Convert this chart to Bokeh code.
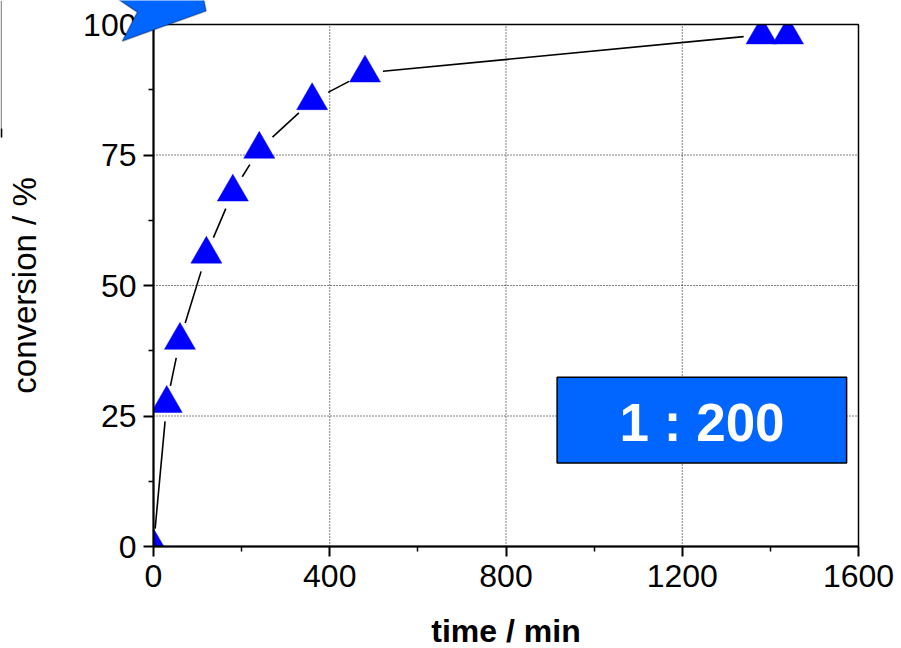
import math
from bokeh.plotting import figure
from bokeh.models import Range1d, PolyAnnotation, BoxAnnotation, Label, FixedTicker
from bokeh.embed import file_html
from bokeh.resources import INLINE

# ---- data ----
time_min = [0, 30, 60, 120, 180, 240, 360, 480, 1380, 1440]
conversion = [0, 27.4, 39.5, 56.0, 67.9, 76.1, 85.4, 90.7, 98.0, 98.0]
x_ticks = [0, 400, 800, 1200, 1600]
x_minor = [200, 600, 1000, 1400]
y_ticks = [0, 25, 50, 75, 100]
y_minor = [12.5, 37.5, 62.5, 87.5]
ratio_text = "1 : 200"

# ---- layout (pixels) ----
X0, X1, Y0, Y1 = 0, 1600, 0, 100
LEFT_PX, TOP_PX = 153, 24
PLOT_W, PLOT_H = 705, 522
CANVAS_W, CANVAS_H = 898, 647
sx = PLOT_W / (X1 - X0)
sy = PLOT_H / (Y1 - Y0)
x_lo = X0 - LEFT_PX / sx
x_hi = X1 + (CANVAS_W - LEFT_PX - PLOT_W) / sx
y_hi = Y1 + TOP_PX / sy
y_lo = Y0 - (CANVAS_H - TOP_PX - PLOT_H) / sy


def px(x, y):
    return X0 + (x - LEFT_PX) / sx, Y0 + (TOP_PX + PLOT_H - y) / sy


FONT = "Liberation Sans"
BLUE_BOX = "#0066FF"
MARK = "#0000FF"

p = figure(frame_width=CANVAS_W, frame_height=CANVAS_H,
           x_range=Range1d(x_lo, x_hi), y_range=Range1d(y_lo, y_hi),
           output_backend="svg", toolbar_location=None,
           min_border=0)
p.background_fill_color = "white"
p.border_fill_color = "white"
p.outline_line_color = None
p.grid.visible = False

for ax in (p.xaxis[0], p.yaxis[0]):
    ax.fixed_location = 0
    ax.axis_line_width = 2
    ax.axis_line_color = "black"
    ax.major_tick_line_width = 2
    ax.major_tick_line_color = "black"
    ax.minor_tick_line_width = 1.5
    ax.minor_tick_line_color = "black"
    ax.major_tick_in = 0
    ax.major_tick_out = 10
    ax.minor_tick_in = 0
    ax.minor_tick_out = 5
    ax.major_label_text_font = FONT
    ax.major_label_text_font_size = "32px"
    ax.major_label_text_color = "black"
    ax.axis_label_text_font = FONT
    ax.axis_label_text_color = "black"

p.xaxis.bounds = (X0, X1)
p.yaxis.bounds = (Y0, Y1)
p.xaxis.ticker = FixedTicker(ticks=x_ticks, minor_ticks=x_minor)
p.yaxis.ticker = FixedTicker(ticks=y_ticks, minor_ticks=y_minor)
p.xaxis.major_label_standoff = 8
p.yaxis.major_label_standoff = 7
p.xaxis.axis_label = "time / min"
p.xaxis.axis_label_text_font_style = "bold"
p.xaxis.axis_label_text_font_size = "32px"
p.xaxis.axis_label_standoff = 23
p.yaxis.axis_label = "conversion / %"
p.yaxis.axis_label_text_font_style = "normal"
p.yaxis.axis_label_text_font_size = "33px"
p.yaxis.axis_label_standoff = 37

# dotted grid lines at the interior ticks
gx = x_ticks[1:-1]
gy = y_ticks[1:-1]
p.segment(gx, [Y0] * len(gx), gx, [Y1] * len(gx),
          line_color="black", line_width=1, line_dash="1 2")
p.segment([X0] * len(gy), gy, [X1] * len(gy), gy,
          line_color="black", line_width=1, line_dash="1 2")

# connecting segments with gaps around the markers (gap in pixels)
GAP = 18
xs0, ys0, xs1, ys1 = [], [], [], []
for i in range(len(time_min) - 1):
    ax_, ay_ = time_min[i] * sx, conversion[i] * sy
    bx_, by_ = time_min[i + 1] * sx, conversion[i + 1] * sy
    d = math.hypot(bx_ - ax_, by_ - ay_)
    if d > 2 * GAP:
        ux, uy = (bx_ - ax_) / d, (by_ - ay_) / d
        xs0.append((ax_ + GAP * ux) / sx)
        ys0.append((ay_ + GAP * uy) / sy)
        xs1.append((bx_ - GAP * ux) / sx)
        ys1.append((by_ - GAP * uy) / sy)
p.segment(xs0, ys0, xs1, ys1, line_color="black", line_width=1.6)

p.scatter(time_min, conversion, marker="triangle", size=31,
          fill_color=MARK, line_color=MARK, line_width=0.5)

# white masks: clip markers to the plot area like the original
p.quad(left=[x_lo, x_lo, x_lo, X1], right=[X0, x_hi, x_hi, x_hi],
       bottom=[y_lo, y_lo, Y1, y_lo], top=[y_hi, Y0, y_hi, y_hi],
       fill_color="white", line_color=None)

# top / right frame lines
frame_box = BoxAnnotation(left=X0, right=X1, bottom=Y0, top=Y1,
                          fill_alpha=0, line_color="black", line_width=1.5,
                          line_alpha=1.0)
p.add_layout(frame_box)

# decorative arrow at top-left (partially cut off in original)
arrow_px = [(114.9, -3), (136.7, 11.7), (121.7, 40.7), (205.7, 10.5), (203.0, -3)]
ax_pts = [px(a, b) for a, b in arrow_px]
arrow = PolyAnnotation(xs=[a for a, _ in ax_pts], ys=[b for _, b in ax_pts],
                       fill_color=BLUE_BOX, fill_alpha=1.0,
                       line_color="black", line_width=1.5)
p.add_layout(arrow)

# remnants of a cut-off frame at the far left edge
e1 = [px(a, b) for a, b in [(0, 0), (1.4, 0), (1.4, 128), (0, 128)]]
p.add_layout(PolyAnnotation(xs=[a for a, _ in e1], ys=[b for _, b in e1],
                            fill_color="#888888", fill_alpha=1.0, line_color=None))
e2 = [px(a, b) for a, b in [(0, 128), (1.8, 128), (1.8, 137), (0, 137)]]
p.add_layout(PolyAnnotation(xs=[a for a, _ in e2], ys=[b for _, b in e2],
                            fill_color="black", fill_alpha=1.0, line_color=None))

# ratio box
box = BoxAnnotation(left=916, right=1573, bottom=16.0, top=32.4,
                    fill_color=BLUE_BOX, fill_alpha=1.0,
                    line_color="black", line_width=1.5, line_alpha=1.0)
p.add_layout(box)
lab = Label(x=1245, y=23.8, text=ratio_text, text_font=FONT,
            text_font_style="bold", text_font_size="53px",
            text_color="white", text_align="center", text_baseline="middle")
p.add_layout(lab)

open("out.html", "w").write(file_html(p, INLINE))
